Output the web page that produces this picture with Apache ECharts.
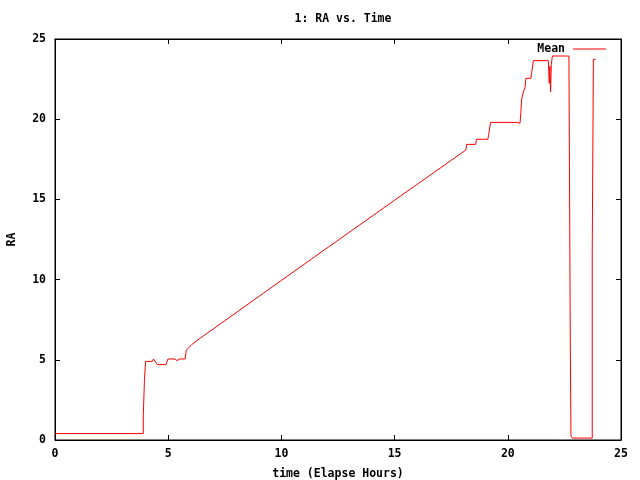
<!DOCTYPE html>
<html><head><meta charset="utf-8">
<script src="https://cdn.jsdelivr.net/npm/echarts@6/dist/echarts.min.js"></script>
<style>html,body{margin:0;padding:0;background:#fff}#c{width:640px;height:480px}</style>
</head><body><div id="c"></div>
<script>
var timeHours = [0, 3.9, 3.9, 3.95, 4.0, 4.3, 4.35, 4.42, 4.52, 4.9, 4.99, 5.3, 5.39, 5.5, 5.75, 5.8, 6.04, 6.3, 10, 15, 18.15, 18.18, 18.58, 18.62, 19.12, 19.15, 19.24, 20.4, 20.45, 20.54, 20.57, 20.61, 20.69, 20.76, 20.8, 21.02, 21.05, 21.13, 21.79, 21.8, 21.83, 21.86, 21.89, 21.92, 21.97, 22.7, 22.72, 22.76, 22.79, 22.85, 23.73, 23.73, 23.78, 23.88];
var raMean = [0.4, 0.4, 1.5, 3.7, 4.9, 4.9, 5.05, 5.05, 4.7, 4.7, 5.05, 5.05, 4.95, 5.05, 5.05, 5.6, 5.95, 6.23, 9.95, 14.95, 18.08, 18.43, 18.43, 18.75, 18.75, 19.0, 19.8, 19.8, 19.75, 19.75, 20.26, 21.24, 21.7, 21.96, 22.55, 22.55, 22.86, 23.65, 23.65, 23.38, 22.24, 23.3, 21.7, 23.4, 23.94, 23.94, 18.0, 6.17, 0.25, 0.12, 0.12, 11.9, 23.73, 23.73];
var seriesName = 'Mean';
var titleText = '1: RA vs. Time';
var xName = 'time (Elapse Hours)';
var yName = 'RA';

var font = 'DejaVu Sans Mono';
var txt = {color: '#000', fontFamily: font, fontWeight: 'bold', fontSize: 11.5};
var pts = timeHours.map(function(t, i){ return [t, raMean[i]]; });
var chart = echarts.init(document.getElementById('c'), null, {renderer:'canvas'});
function mkAxis(pos, showLabel, name, nameGap, rot, margin) {
  var a = {
    type: 'value', min: 0, max: 25, interval: 5, position: pos,
    axisLine: {show: true, onZero: false, lineStyle: {color: '#000', width: 1}},
    axisTick: {show: true, inside: true, length: 5, lineStyle: {color: '#000', width: 1}},
    splitLine: {show: false},
    axisLabel: {show: showLabel, color: '#000', fontFamily: font, fontWeight: 'bold', fontSize: 11.5, margin: margin || 8}
  };
  if (name) {
    a.name = name; a.nameLocation = 'middle'; a.nameGap = nameGap;
    if (rot) a.nameRotate = rot;
    a.nameTextStyle = txt;
  }
  return a;
}
chart.setOption({
  animation: false,
  backgroundColor: '#fff',
  title: {text: titleText, left: 338, top: 8, textAlign: 'center', textStyle: txt},
  grid: {left: 55, right: 19, top: 39, bottom: 40, containLabel: false, outerBoundsMode: 'none',
    show: true, borderColor: '#000', borderWidth: 1, backgroundColor: 'transparent'},
  legend: {right: 34, top: 43, padding: 0, align: 'right', itemWidth: 33, itemHeight: 1, icon: 'rect',
    data: [seriesName], textStyle: Object.assign({}, txt, {padding: [0, 3, 0, 0]})},
  xAxis: [
    mkAxis('bottom', true, xName, 28, 0, 8),
    mkAxis('top', false)
  ],
  yAxis: [
    mkAxis('left', true, yName, 37, 90, 9),
    mkAxis('right', false)
  ],
  series: [{
    name: seriesName, type: 'line', data: pts, showSymbol: false, symbol: 'none',
    xAxisIndex: 0, yAxisIndex: 0,
    lineStyle: {color: '#ff0000', width: 1}, itemStyle: {color: '#ff0000'}
  }]
});
</script></body></html>
